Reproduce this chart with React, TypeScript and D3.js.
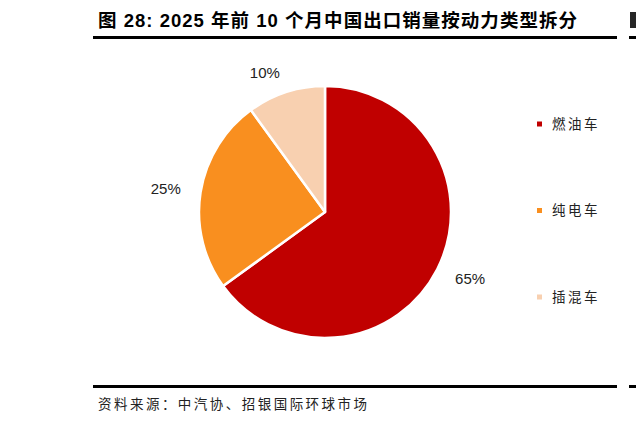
import * as d3 from "d3";

const categories = ["燃油车", "纯电车", "插混车"];
const shares = [65, 25, 10];
const colors = ["#C00000", "#F98F1F", "#F8D0B0"];

const TITLE = "图 28: 2025 年前 10 个月中国出口销量按动力类型拆分";
const SOURCE = "资料来源：中汽协、招银国际环球市场";

const W = 636;
const H = 421;
const cx = 325;
const cy = 212;
const r = 126;

export default function App() {
  const pie = d3
    .pie<number>()
    .value((d) => d)
    .sort(null);
  const arcs = pie(shares);
  const arc = d3.arc<d3.PieArcDatum<number>>().innerRadius(0).outerRadius(r);
  const labelR = 146;

  const legendY = d3.scalePoint<string>().domain(categories).range([124, 297]);

  return (
    <svg
      width={W}
      height={H}
      style={{ position: "absolute", left: 0, top: 0, background: "#fff" }}
    >
      <text
        x={98}
        y={27}
        fontFamily="'Liberation Sans', 'Noto Sans CJK SC', sans-serif"
        fontWeight="bold"
        fontSize={18.5}
        fill="#000"
        textLength={479}
        lengthAdjust="spacing"
      >
        {TITLE}
      </text>
      <rect x={93} y={36} width={524} height={3} fill="#000" />
      <rect x={629} y={36} width={7} height={3} fill="#000" />
      <rect x={630} y={12} width={6} height={16} fill="#000" opacity={0.85} />

      <g transform={`translate(${cx},${cy})`}>
        {arcs.map((a, i) => (
          <path
            key={categories[i]}
            d={arc(a) ?? ""}
            fill={colors[i]}
            stroke="#fff"
            strokeWidth={2.5}
            strokeLinejoin="round"
          />
        ))}
        {arcs.map((a, i) => {
          const mid = (a.startAngle + a.endAngle) / 2;
          const x = labelR * Math.sin(mid);
          const y = -labelR * Math.cos(mid);
          return (
            <text
              key={"l" + i}
              x={x}
              y={y}
              dy="0.35em"
              textAnchor={x < 0 ? "end" : "start"}
              fontFamily="'Liberation Sans', Arial, sans-serif"
              fontSize={15}
              fill="#222"
            >
              {shares[i]}%
            </text>
          );
        })}
      </g>

      {categories.map((c, i) => (
        <g key={c} transform={`translate(537,${legendY(c)})`}>
          <rect x={0} y={-2.5} width={5} height={5} fill={colors[i]} />
          <text
            x={15}
            y={0}
            dy="0.36em"
            fontFamily="'Noto Sans CJK SC', sans-serif"
            fontSize={13.5}
            letterSpacing={2.5}
            fill="#222"
          >
            {c}
          </text>
        </g>
      ))}

      <rect x={93} y={385} width={524} height={3} fill="#000" />
      <rect x={629} y={385} width={7} height={3} fill="#000" />
      <text
        x={98}
        y={409}
        fontFamily="'Noto Sans CJK SC', sans-serif"
        fontSize={13.5}
        fill="#222"
        textLength={269}
        lengthAdjust="spacing"
      >
        {SOURCE}
      </text>
    </svg>
  );
}
